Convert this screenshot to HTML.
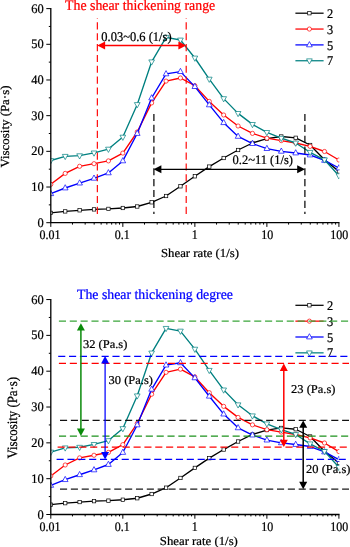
<!DOCTYPE html><html><head><meta charset="utf-8"><title>Shear thickening</title><style>html,body{margin:0;padding:0;background:#fff}svg{display:block}text{stroke-width:0.23px;text-rendering:geometricPrecision}</style></head><body><svg width="350" height="547" viewBox="0 0 350 547" font-family="'Liberation Serif', 'Times New Roman', serif" font-size="12.4"><rect width="350" height="547" fill="#fff"/><defs><clipPath id="c1"><rect x="50.8" y="0" width="288.5" height="223.0"/></clipPath><clipPath id="c2"><rect x="50.8" y="280" width="288.5" height="234.79999999999995"/></clipPath></defs><g clip-path="url(#c1)"><polyline points="50.80,212.90 65.21,211.40 79.61,210.30 94.02,209.40 108.42,208.90 122.83,208.00 137.24,206.50 151.64,202.30 166.05,196.00 180.45,186.30 194.86,176.30 209.27,166.60 223.67,158.00 238.08,150.00 252.48,143.00 266.89,138.60 281.30,136.50 295.70,137.80 310.11,145.00 324.51,159.80 338.92,171.40" fill="none" stroke="#000" stroke-width="1.35" stroke-linejoin="round"/><rect x="49.10" y="211.20" width="3.4" height="3.4" fill="#fff" stroke="#000" stroke-width="0.7"/><rect x="63.51" y="209.70" width="3.4" height="3.4" fill="#fff" stroke="#000" stroke-width="0.7"/><rect x="77.91" y="208.60" width="3.4" height="3.4" fill="#fff" stroke="#000" stroke-width="0.7"/><rect x="92.32" y="207.70" width="3.4" height="3.4" fill="#fff" stroke="#000" stroke-width="0.7"/><rect x="106.72" y="207.20" width="3.4" height="3.4" fill="#fff" stroke="#000" stroke-width="0.7"/><rect x="121.13" y="206.30" width="3.4" height="3.4" fill="#fff" stroke="#000" stroke-width="0.7"/><rect x="135.54" y="204.80" width="3.4" height="3.4" fill="#fff" stroke="#000" stroke-width="0.7"/><rect x="149.94" y="200.60" width="3.4" height="3.4" fill="#fff" stroke="#000" stroke-width="0.7"/><rect x="164.35" y="194.30" width="3.4" height="3.4" fill="#fff" stroke="#000" stroke-width="0.7"/><rect x="178.75" y="184.60" width="3.4" height="3.4" fill="#fff" stroke="#000" stroke-width="0.7"/><rect x="193.16" y="174.60" width="3.4" height="3.4" fill="#fff" stroke="#000" stroke-width="0.7"/><rect x="207.57" y="164.90" width="3.4" height="3.4" fill="#fff" stroke="#000" stroke-width="0.7"/><rect x="221.97" y="156.30" width="3.4" height="3.4" fill="#fff" stroke="#000" stroke-width="0.7"/><rect x="236.38" y="148.30" width="3.4" height="3.4" fill="#fff" stroke="#000" stroke-width="0.7"/><rect x="250.78" y="141.30" width="3.4" height="3.4" fill="#fff" stroke="#000" stroke-width="0.7"/><rect x="265.19" y="136.90" width="3.4" height="3.4" fill="#fff" stroke="#000" stroke-width="0.7"/><rect x="279.60" y="134.80" width="3.4" height="3.4" fill="#fff" stroke="#000" stroke-width="0.7"/><rect x="294.00" y="136.10" width="3.4" height="3.4" fill="#fff" stroke="#000" stroke-width="0.7"/><rect x="308.41" y="143.30" width="3.4" height="3.4" fill="#fff" stroke="#000" stroke-width="0.7"/><rect x="322.81" y="158.10" width="3.4" height="3.4" fill="#fff" stroke="#000" stroke-width="0.7"/><rect x="337.22" y="169.70" width="3.4" height="3.4" fill="#fff" stroke="#000" stroke-width="0.7"/><polyline points="50.80,184.30 65.21,173.40 79.61,166.30 94.02,163.70 108.42,160.90 122.83,153.10 137.24,132.00 151.64,102.90 166.05,81.10 180.45,78.00 194.86,85.70 209.27,101.40 223.67,115.00 238.08,126.00 252.48,133.40 266.89,138.20 281.30,140.60 295.70,143.00 310.11,146.40 324.51,151.50 338.92,160.00" fill="none" stroke="#ff0000" stroke-width="1.35" stroke-linejoin="round"/><circle cx="50.80" cy="184.30" r="2.1" fill="#fff" stroke="#ff0000" stroke-width="0.7"/><circle cx="65.21" cy="173.40" r="2.1" fill="#fff" stroke="#ff0000" stroke-width="0.7"/><circle cx="79.61" cy="166.30" r="2.1" fill="#fff" stroke="#ff0000" stroke-width="0.7"/><circle cx="94.02" cy="163.70" r="2.1" fill="#fff" stroke="#ff0000" stroke-width="0.7"/><circle cx="108.42" cy="160.90" r="2.1" fill="#fff" stroke="#ff0000" stroke-width="0.7"/><circle cx="122.83" cy="153.10" r="2.1" fill="#fff" stroke="#ff0000" stroke-width="0.7"/><circle cx="137.24" cy="132.00" r="2.1" fill="#fff" stroke="#ff0000" stroke-width="0.7"/><circle cx="151.64" cy="102.90" r="2.1" fill="#fff" stroke="#ff0000" stroke-width="0.7"/><circle cx="166.05" cy="81.10" r="2.1" fill="#fff" stroke="#ff0000" stroke-width="0.7"/><circle cx="180.45" cy="78.00" r="2.1" fill="#fff" stroke="#ff0000" stroke-width="0.7"/><circle cx="194.86" cy="85.70" r="2.1" fill="#fff" stroke="#ff0000" stroke-width="0.7"/><circle cx="209.27" cy="101.40" r="2.1" fill="#fff" stroke="#ff0000" stroke-width="0.7"/><circle cx="223.67" cy="115.00" r="2.1" fill="#fff" stroke="#ff0000" stroke-width="0.7"/><circle cx="238.08" cy="126.00" r="2.1" fill="#fff" stroke="#ff0000" stroke-width="0.7"/><circle cx="252.48" cy="133.40" r="2.1" fill="#fff" stroke="#ff0000" stroke-width="0.7"/><circle cx="266.89" cy="138.20" r="2.1" fill="#fff" stroke="#ff0000" stroke-width="0.7"/><circle cx="281.30" cy="140.60" r="2.1" fill="#fff" stroke="#ff0000" stroke-width="0.7"/><circle cx="295.70" cy="143.00" r="2.1" fill="#fff" stroke="#ff0000" stroke-width="0.7"/><circle cx="310.11" cy="146.40" r="2.1" fill="#fff" stroke="#ff0000" stroke-width="0.7"/><circle cx="324.51" cy="151.50" r="2.1" fill="#fff" stroke="#ff0000" stroke-width="0.7"/><circle cx="338.92" cy="160.00" r="2.1" fill="#fff" stroke="#ff0000" stroke-width="0.7"/><polyline points="50.80,193.70 65.21,188.00 79.61,183.10 94.02,178.30 108.42,172.90 122.83,160.90 137.24,133.50 151.64,98.00 166.05,73.90 180.45,71.60 194.86,86.60 209.27,104.90 223.67,122.70 238.08,136.40 252.48,143.60 266.89,148.60 281.30,151.30 295.70,153.00 310.11,155.00 324.51,160.40 338.92,168.00" fill="none" stroke="#0000ff" stroke-width="1.35" stroke-linejoin="round"/><polygon points="50.80,190.40 53.65,195.60 47.95,195.60" fill="#fff" stroke="#0000ff" stroke-width="0.7"/><polygon points="65.21,184.70 68.06,189.90 62.36,189.90" fill="#fff" stroke="#0000ff" stroke-width="0.7"/><polygon points="79.61,179.80 82.46,185.00 76.76,185.00" fill="#fff" stroke="#0000ff" stroke-width="0.7"/><polygon points="94.02,175.00 96.87,180.20 91.17,180.20" fill="#fff" stroke="#0000ff" stroke-width="0.7"/><polygon points="108.42,169.60 111.27,174.80 105.57,174.80" fill="#fff" stroke="#0000ff" stroke-width="0.7"/><polygon points="122.83,157.60 125.68,162.80 119.98,162.80" fill="#fff" stroke="#0000ff" stroke-width="0.7"/><polygon points="137.24,130.20 140.09,135.40 134.39,135.40" fill="#fff" stroke="#0000ff" stroke-width="0.7"/><polygon points="151.64,94.70 154.49,99.90 148.79,99.90" fill="#fff" stroke="#0000ff" stroke-width="0.7"/><polygon points="166.05,70.60 168.90,75.80 163.20,75.80" fill="#fff" stroke="#0000ff" stroke-width="0.7"/><polygon points="180.45,68.30 183.30,73.50 177.60,73.50" fill="#fff" stroke="#0000ff" stroke-width="0.7"/><polygon points="194.86,83.30 197.71,88.50 192.01,88.50" fill="#fff" stroke="#0000ff" stroke-width="0.7"/><polygon points="209.27,101.60 212.12,106.80 206.42,106.80" fill="#fff" stroke="#0000ff" stroke-width="0.7"/><polygon points="223.67,119.40 226.52,124.60 220.82,124.60" fill="#fff" stroke="#0000ff" stroke-width="0.7"/><polygon points="238.08,133.10 240.93,138.30 235.23,138.30" fill="#fff" stroke="#0000ff" stroke-width="0.7"/><polygon points="252.48,140.30 255.33,145.50 249.63,145.50" fill="#fff" stroke="#0000ff" stroke-width="0.7"/><polygon points="266.89,145.30 269.74,150.50 264.04,150.50" fill="#fff" stroke="#0000ff" stroke-width="0.7"/><polygon points="281.30,148.00 284.15,153.20 278.45,153.20" fill="#fff" stroke="#0000ff" stroke-width="0.7"/><polygon points="295.70,149.70 298.55,154.90 292.85,154.90" fill="#fff" stroke="#0000ff" stroke-width="0.7"/><polygon points="310.11,151.70 312.96,156.90 307.26,156.90" fill="#fff" stroke="#0000ff" stroke-width="0.7"/><polygon points="324.51,157.10 327.36,162.30 321.66,162.30" fill="#fff" stroke="#0000ff" stroke-width="0.7"/><polygon points="338.92,164.70 341.77,169.90 336.07,169.90" fill="#fff" stroke="#0000ff" stroke-width="0.7"/><polyline points="50.80,160.50 65.21,156.30 79.61,155.70 94.02,152.90 108.42,149.10 122.83,137.10 137.24,104.50 151.64,61.80 166.05,37.30 180.45,40.00 194.86,58.00 209.27,79.10 223.67,98.60 238.08,113.40 252.48,124.40 266.89,132.40 281.30,138.20 295.70,143.00 310.11,152.30 324.51,159.80 338.92,175.70" fill="none" stroke="#008080" stroke-width="1.35" stroke-linejoin="round"/><polygon points="50.80,163.80 53.65,158.60 47.95,158.60" fill="#fff" stroke="#008080" stroke-width="0.7"/><polygon points="65.21,159.60 68.06,154.40 62.36,154.40" fill="#fff" stroke="#008080" stroke-width="0.7"/><polygon points="79.61,159.00 82.46,153.80 76.76,153.80" fill="#fff" stroke="#008080" stroke-width="0.7"/><polygon points="94.02,156.20 96.87,151.00 91.17,151.00" fill="#fff" stroke="#008080" stroke-width="0.7"/><polygon points="108.42,152.40 111.27,147.20 105.57,147.20" fill="#fff" stroke="#008080" stroke-width="0.7"/><polygon points="122.83,140.40 125.68,135.20 119.98,135.20" fill="#fff" stroke="#008080" stroke-width="0.7"/><polygon points="137.24,107.80 140.09,102.60 134.39,102.60" fill="#fff" stroke="#008080" stroke-width="0.7"/><polygon points="151.64,65.10 154.49,59.90 148.79,59.90" fill="#fff" stroke="#008080" stroke-width="0.7"/><polygon points="166.05,40.60 168.90,35.40 163.20,35.40" fill="#fff" stroke="#008080" stroke-width="0.7"/><polygon points="180.45,43.30 183.30,38.10 177.60,38.10" fill="#fff" stroke="#008080" stroke-width="0.7"/><polygon points="194.86,61.30 197.71,56.10 192.01,56.10" fill="#fff" stroke="#008080" stroke-width="0.7"/><polygon points="209.27,82.40 212.12,77.20 206.42,77.20" fill="#fff" stroke="#008080" stroke-width="0.7"/><polygon points="223.67,101.90 226.52,96.70 220.82,96.70" fill="#fff" stroke="#008080" stroke-width="0.7"/><polygon points="238.08,116.70 240.93,111.50 235.23,111.50" fill="#fff" stroke="#008080" stroke-width="0.7"/><polygon points="252.48,127.70 255.33,122.50 249.63,122.50" fill="#fff" stroke="#008080" stroke-width="0.7"/><polygon points="266.89,135.70 269.74,130.50 264.04,130.50" fill="#fff" stroke="#008080" stroke-width="0.7"/><polygon points="281.30,141.50 284.15,136.30 278.45,136.30" fill="#fff" stroke="#008080" stroke-width="0.7"/><polygon points="295.70,146.30 298.55,141.10 292.85,141.10" fill="#fff" stroke="#008080" stroke-width="0.7"/><polygon points="310.11,155.60 312.96,150.40 307.26,150.40" fill="#fff" stroke="#008080" stroke-width="0.7"/><polygon points="324.51,163.10 327.36,157.90 321.66,157.90" fill="#fff" stroke="#008080" stroke-width="0.7"/><polygon points="338.92,179.00 341.77,173.80 336.07,173.80" fill="#fff" stroke="#008080" stroke-width="0.7"/></g><g stroke="#000" stroke-width="1.3" fill="none"><path d="M50.8 8.02 V222.7 H339.52000000000004"/></g><g stroke="#000" stroke-width="1" fill="none"><path d="M46.3 222.70 H50.8"/><path d="M48.8 204.86 H50.8"/><path d="M46.3 187.02 H50.8"/><path d="M48.8 169.18 H50.8"/><path d="M46.3 151.34 H50.8"/><path d="M48.8 133.50 H50.8"/><path d="M46.3 115.66 H50.8"/><path d="M48.8 97.82 H50.8"/><path d="M46.3 79.98 H50.8"/><path d="M48.8 62.14 H50.8"/><path d="M46.3 44.30 H50.8"/><path d="M48.8 26.46 H50.8"/><path d="M46.3 8.62 H50.8"/><path d="M50.80 222.7 V226.89999999999998"/><path d="M72.48 222.7 V224.6"/><path d="M85.17 222.7 V224.6"/><path d="M94.17 222.7 V224.6"/><path d="M101.15 222.7 V224.6"/><path d="M106.85 222.7 V224.6"/><path d="M111.67 222.7 V224.6"/><path d="M115.85 222.7 V224.6"/><path d="M119.53 222.7 V224.6"/><path d="M122.83 222.7 V226.89999999999998"/><path d="M144.51 222.7 V224.6"/><path d="M157.20 222.7 V224.6"/><path d="M166.20 222.7 V224.6"/><path d="M173.18 222.7 V224.6"/><path d="M178.88 222.7 V224.6"/><path d="M183.70 222.7 V224.6"/><path d="M187.88 222.7 V224.6"/><path d="M191.56 222.7 V224.6"/><path d="M194.86 222.7 V226.89999999999998"/><path d="M216.54 222.7 V224.6"/><path d="M229.23 222.7 V224.6"/><path d="M238.23 222.7 V224.6"/><path d="M245.21 222.7 V224.6"/><path d="M250.91 222.7 V224.6"/><path d="M255.73 222.7 V224.6"/><path d="M259.91 222.7 V224.6"/><path d="M263.59 222.7 V224.6"/><path d="M266.89 222.7 V226.89999999999998"/><path d="M288.57 222.7 V224.6"/><path d="M301.26 222.7 V224.6"/><path d="M310.26 222.7 V224.6"/><path d="M317.24 222.7 V224.6"/><path d="M322.94 222.7 V224.6"/><path d="M327.76 222.7 V224.6"/><path d="M331.94 222.7 V224.6"/><path d="M335.62 222.7 V224.6"/><path d="M338.92 222.7 V226.89999999999998"/></g><text transform="translate(43.60 226.70) scale(1.01 1.06)" font-size="12.3" fill="#000" stroke="#000" text-anchor="end">0</text><text transform="translate(43.60 191.02) scale(1.01 1.06)" font-size="12.3" fill="#000" stroke="#000" text-anchor="end">10</text><text transform="translate(43.60 155.34) scale(1.01 1.06)" font-size="12.3" fill="#000" stroke="#000" text-anchor="end">20</text><text transform="translate(43.60 119.66) scale(1.01 1.06)" font-size="12.3" fill="#000" stroke="#000" text-anchor="end">30</text><text transform="translate(43.60 83.98) scale(1.01 1.06)" font-size="12.3" fill="#000" stroke="#000" text-anchor="end">40</text><text transform="translate(43.60 48.30) scale(1.01 1.06)" font-size="12.3" fill="#000" stroke="#000" text-anchor="end">50</text><text transform="translate(43.60 12.62) scale(1.01 1.06)" font-size="12.3" fill="#000" stroke="#000" text-anchor="end">60</text><text transform="translate(49.90 239.10) scale(0.975 1.07)" font-size="12.3" fill="#000" stroke="#000" text-anchor="middle">0.01</text><text transform="translate(122.23 239.10) scale(0.975 1.07)" font-size="12.3" fill="#000" stroke="#000" text-anchor="middle">0.1</text><text transform="translate(194.66 239.10) scale(0.975 1.07)" font-size="12.3" fill="#000" stroke="#000" text-anchor="middle">1</text><text transform="translate(267.19 239.10) scale(0.975 1.07)" font-size="12.3" fill="#000" stroke="#000" text-anchor="middle">10</text><text transform="translate(339.22 239.10) scale(0.975 1.07)" font-size="12.3" fill="#000" stroke="#000" text-anchor="middle">100</text><text transform="translate(200.00 256.60) scale(1.022 0.98)" font-size="12.5" fill="#000" stroke="#000" text-anchor="middle">Shear rate (1/s)</text><text transform="translate(8.85 126.55) rotate(-90) scale(1.017 0.97)" font-size="12.7" fill="#000" stroke="#000" text-anchor="middle">Viscosity (Pa·s)</text><path d="M295.4 13.20 H323.6" stroke="#000" stroke-width="1.25"/><rect x="307.70" y="11.50" width="3.4" height="3.4" fill="#fff" stroke="#000" stroke-width="0.7"/><text transform="translate(327.00 17.80) scale(1.0 1.07)" font-size="12.4" fill="#000" stroke="#000">2</text><path d="M295.4 29.05 H323.6" stroke="#ff0000" stroke-width="1.25"/><circle cx="309.40" cy="29.05" r="2.1" fill="#fff" stroke="#ff0000" stroke-width="0.7"/><text transform="translate(327.00 33.65) scale(1.0 1.07)" font-size="12.4" fill="#000" stroke="#000">3</text><path d="M295.4 44.90 H323.6" stroke="#0000ff" stroke-width="1.25"/><polygon points="309.40,41.60 312.25,46.80 306.55,46.80" fill="#fff" stroke="#0000ff" stroke-width="0.7"/><text transform="translate(327.00 49.50) scale(1.0 1.07)" font-size="12.4" fill="#000" stroke="#000">5</text><path d="M295.4 60.75 H323.6" stroke="#008080" stroke-width="1.25"/><polygon points="309.40,64.05 312.25,58.85 306.55,58.85" fill="#fff" stroke="#008080" stroke-width="0.7"/><text transform="translate(327.00 65.35) scale(1.0 1.07)" font-size="12.4" fill="#000" stroke="#000">7</text><path d="M97.35 213.9 V18" stroke="#ff0000" stroke-width="1.15" stroke-dasharray="7.1 3.75" fill="none"/><path d="M186.2 213.9 V18" stroke="#ff0000" stroke-width="1.15" stroke-dasharray="7.1 3.75" fill="none"/><path d="M153.9 114 V213.9" stroke="#000" stroke-width="1.2" stroke-dasharray="7.1 3.75" fill="none"/><path d="M304.9 114 V213.9" stroke="#000" stroke-width="1.2" stroke-dasharray="7.1 3.75" fill="none"/><path d="M100.3 45.4 H183.2" stroke="#ff0000" stroke-width="1.5"/><polygon points="97.3,45.4 105.1,41.4 105.1,49.4" fill="#ff0000"/><polygon points="186.2,45.4 178.39999999999998,41.4 178.39999999999998,49.4" fill="#ff0000"/><path d="M156.6 169.3 H302.0" stroke="#000" stroke-width="1.15"/><polygon points="153.6,169.3 161.4,165.3 161.4,173.3" fill="#000"/><polygon points="305.0,169.3 297.2,165.3 297.2,173.3" fill="#000"/><text transform="translate(65.10 9.70) scale(1.01 1.07)" font-size="13.7" fill="#ff0000" stroke="#ff0000">The shear thickening range</text><text transform="translate(101.30 41.30) scale(1.0 1.06)" font-size="12.5" fill="#000" stroke="#000">0.03~0.6 (1/s)</text><text transform="translate(232.50 163.90) scale(1.0 1.04)" font-size="12.5" fill="#000" stroke="#000">0.2~11 (1/s)</text><path d="M295.4 305.30 H323.6" stroke="#000" stroke-width="1.25"/><rect x="307.70" y="303.60" width="3.4" height="3.4" fill="#fff" stroke="#000" stroke-width="0.7"/><text transform="translate(327.00 309.90) scale(1.0 1.07)" font-size="12.4" fill="#000" stroke="#000">2</text><path d="M295.4 321.15 H323.6" stroke="#ff0000" stroke-width="1.25"/><circle cx="309.40" cy="321.15" r="2.1" fill="#fff" stroke="#ff0000" stroke-width="0.7"/><text transform="translate(327.00 325.75) scale(1.0 1.07)" font-size="12.4" fill="#000" stroke="#000">3</text><path d="M295.4 337.00 H323.6" stroke="#0000ff" stroke-width="1.25"/><polygon points="309.40,333.70 312.25,338.90 306.55,338.90" fill="#fff" stroke="#0000ff" stroke-width="0.7"/><text transform="translate(327.00 341.60) scale(1.0 1.07)" font-size="12.4" fill="#000" stroke="#000">5</text><path d="M295.4 352.85 H323.6" stroke="#008080" stroke-width="1.25"/><polygon points="309.40,356.15 312.25,350.95 306.55,350.95" fill="#fff" stroke="#008080" stroke-width="0.7"/><text transform="translate(327.00 357.45) scale(1.0 1.07)" font-size="12.4" fill="#000" stroke="#000">7</text><g clip-path="url(#c2)"><polyline points="50.80,504.66 65.21,503.15 79.61,502.05 94.02,501.15 108.42,500.64 122.83,499.74 137.24,498.23 151.64,494.02 166.05,487.69 180.45,477.95 194.86,467.91 209.27,458.17 223.67,449.54 238.08,441.50 252.48,434.48 266.89,430.06 281.30,427.95 295.70,429.25 310.11,436.48 324.51,451.34 338.92,462.99" fill="none" stroke="#000" stroke-width="1.35" stroke-linejoin="round"/><rect x="49.10" y="502.96" width="3.4" height="3.4" fill="#fff" stroke="#000" stroke-width="0.7"/><rect x="63.51" y="501.45" width="3.4" height="3.4" fill="#fff" stroke="#000" stroke-width="0.7"/><rect x="77.91" y="500.35" width="3.4" height="3.4" fill="#fff" stroke="#000" stroke-width="0.7"/><rect x="92.32" y="499.45" width="3.4" height="3.4" fill="#fff" stroke="#000" stroke-width="0.7"/><rect x="106.72" y="498.94" width="3.4" height="3.4" fill="#fff" stroke="#000" stroke-width="0.7"/><rect x="121.13" y="498.04" width="3.4" height="3.4" fill="#fff" stroke="#000" stroke-width="0.7"/><rect x="135.54" y="496.53" width="3.4" height="3.4" fill="#fff" stroke="#000" stroke-width="0.7"/><rect x="149.94" y="492.32" width="3.4" height="3.4" fill="#fff" stroke="#000" stroke-width="0.7"/><rect x="164.35" y="485.99" width="3.4" height="3.4" fill="#fff" stroke="#000" stroke-width="0.7"/><rect x="178.75" y="476.25" width="3.4" height="3.4" fill="#fff" stroke="#000" stroke-width="0.7"/><rect x="193.16" y="466.21" width="3.4" height="3.4" fill="#fff" stroke="#000" stroke-width="0.7"/><rect x="207.57" y="456.47" width="3.4" height="3.4" fill="#fff" stroke="#000" stroke-width="0.7"/><rect x="221.97" y="447.84" width="3.4" height="3.4" fill="#fff" stroke="#000" stroke-width="0.7"/><rect x="236.38" y="439.80" width="3.4" height="3.4" fill="#fff" stroke="#000" stroke-width="0.7"/><rect x="250.78" y="432.78" width="3.4" height="3.4" fill="#fff" stroke="#000" stroke-width="0.7"/><rect x="265.19" y="428.36" width="3.4" height="3.4" fill="#fff" stroke="#000" stroke-width="0.7"/><rect x="279.60" y="426.25" width="3.4" height="3.4" fill="#fff" stroke="#000" stroke-width="0.7"/><rect x="294.00" y="427.55" width="3.4" height="3.4" fill="#fff" stroke="#000" stroke-width="0.7"/><rect x="308.41" y="434.78" width="3.4" height="3.4" fill="#fff" stroke="#000" stroke-width="0.7"/><rect x="322.81" y="449.64" width="3.4" height="3.4" fill="#fff" stroke="#000" stroke-width="0.7"/><rect x="337.22" y="461.29" width="3.4" height="3.4" fill="#fff" stroke="#000" stroke-width="0.7"/><polyline points="50.80,475.94 65.21,465.00 79.61,457.87 94.02,455.26 108.42,452.45 122.83,444.62 137.24,423.43 151.64,394.21 166.05,372.32 180.45,369.21 194.86,376.94 209.27,392.71 223.67,406.36 238.08,417.41 252.48,424.84 266.89,429.66 281.30,432.07 295.70,434.48 310.11,437.89 324.51,443.01 338.92,451.55" fill="none" stroke="#ff0000" stroke-width="1.35" stroke-linejoin="round"/><circle cx="50.80" cy="475.94" r="2.1" fill="#fff" stroke="#ff0000" stroke-width="0.7"/><circle cx="65.21" cy="465.00" r="2.1" fill="#fff" stroke="#ff0000" stroke-width="0.7"/><circle cx="79.61" cy="457.87" r="2.1" fill="#fff" stroke="#ff0000" stroke-width="0.7"/><circle cx="94.02" cy="455.26" r="2.1" fill="#fff" stroke="#ff0000" stroke-width="0.7"/><circle cx="108.42" cy="452.45" r="2.1" fill="#fff" stroke="#ff0000" stroke-width="0.7"/><circle cx="122.83" cy="444.62" r="2.1" fill="#fff" stroke="#ff0000" stroke-width="0.7"/><circle cx="137.24" cy="423.43" r="2.1" fill="#fff" stroke="#ff0000" stroke-width="0.7"/><circle cx="151.64" cy="394.21" r="2.1" fill="#fff" stroke="#ff0000" stroke-width="0.7"/><circle cx="166.05" cy="372.32" r="2.1" fill="#fff" stroke="#ff0000" stroke-width="0.7"/><circle cx="180.45" cy="369.21" r="2.1" fill="#fff" stroke="#ff0000" stroke-width="0.7"/><circle cx="194.86" cy="376.94" r="2.1" fill="#fff" stroke="#ff0000" stroke-width="0.7"/><circle cx="209.27" cy="392.71" r="2.1" fill="#fff" stroke="#ff0000" stroke-width="0.7"/><circle cx="223.67" cy="406.36" r="2.1" fill="#fff" stroke="#ff0000" stroke-width="0.7"/><circle cx="238.08" cy="417.41" r="2.1" fill="#fff" stroke="#ff0000" stroke-width="0.7"/><circle cx="252.48" cy="424.84" r="2.1" fill="#fff" stroke="#ff0000" stroke-width="0.7"/><circle cx="266.89" cy="429.66" r="2.1" fill="#fff" stroke="#ff0000" stroke-width="0.7"/><circle cx="281.30" cy="432.07" r="2.1" fill="#fff" stroke="#ff0000" stroke-width="0.7"/><circle cx="295.70" cy="434.48" r="2.1" fill="#fff" stroke="#ff0000" stroke-width="0.7"/><circle cx="310.11" cy="437.89" r="2.1" fill="#fff" stroke="#ff0000" stroke-width="0.7"/><circle cx="324.51" cy="443.01" r="2.1" fill="#fff" stroke="#ff0000" stroke-width="0.7"/><circle cx="338.92" cy="451.55" r="2.1" fill="#fff" stroke="#ff0000" stroke-width="0.7"/><polyline points="50.80,485.38 65.21,479.66 79.61,474.74 94.02,469.92 108.42,464.50 122.83,452.45 137.24,424.94 151.64,389.29 166.05,365.10 180.45,362.79 194.86,377.85 209.27,396.22 223.67,414.09 238.08,427.85 252.48,435.08 266.89,440.10 281.30,442.81 295.70,444.52 310.11,446.52 324.51,451.95 338.92,459.58" fill="none" stroke="#0000ff" stroke-width="1.35" stroke-linejoin="round"/><polygon points="50.80,482.08 53.65,487.28 47.95,487.28" fill="#fff" stroke="#0000ff" stroke-width="0.7"/><polygon points="65.21,476.36 68.06,481.56 62.36,481.56" fill="#fff" stroke="#0000ff" stroke-width="0.7"/><polygon points="79.61,471.44 82.46,476.64 76.76,476.64" fill="#fff" stroke="#0000ff" stroke-width="0.7"/><polygon points="94.02,466.62 96.87,471.82 91.17,471.82" fill="#fff" stroke="#0000ff" stroke-width="0.7"/><polygon points="108.42,461.20 111.27,466.40 105.57,466.40" fill="#fff" stroke="#0000ff" stroke-width="0.7"/><polygon points="122.83,449.15 125.68,454.35 119.98,454.35" fill="#fff" stroke="#0000ff" stroke-width="0.7"/><polygon points="137.24,421.64 140.09,426.84 134.39,426.84" fill="#fff" stroke="#0000ff" stroke-width="0.7"/><polygon points="151.64,385.99 154.49,391.19 148.79,391.19" fill="#fff" stroke="#0000ff" stroke-width="0.7"/><polygon points="166.05,361.80 168.90,367.00 163.20,367.00" fill="#fff" stroke="#0000ff" stroke-width="0.7"/><polygon points="180.45,359.49 183.30,364.69 177.60,364.69" fill="#fff" stroke="#0000ff" stroke-width="0.7"/><polygon points="194.86,374.55 197.71,379.75 192.01,379.75" fill="#fff" stroke="#0000ff" stroke-width="0.7"/><polygon points="209.27,392.92 212.12,398.12 206.42,398.12" fill="#fff" stroke="#0000ff" stroke-width="0.7"/><polygon points="223.67,410.79 226.52,415.99 220.82,415.99" fill="#fff" stroke="#0000ff" stroke-width="0.7"/><polygon points="238.08,424.55 240.93,429.75 235.23,429.75" fill="#fff" stroke="#0000ff" stroke-width="0.7"/><polygon points="252.48,431.78 255.33,436.98 249.63,436.98" fill="#fff" stroke="#0000ff" stroke-width="0.7"/><polygon points="266.89,436.80 269.74,442.00 264.04,442.00" fill="#fff" stroke="#0000ff" stroke-width="0.7"/><polygon points="281.30,439.51 284.15,444.71 278.45,444.71" fill="#fff" stroke="#0000ff" stroke-width="0.7"/><polygon points="295.70,441.22 298.55,446.42 292.85,446.42" fill="#fff" stroke="#0000ff" stroke-width="0.7"/><polygon points="310.11,443.22 312.96,448.42 307.26,448.42" fill="#fff" stroke="#0000ff" stroke-width="0.7"/><polygon points="324.51,448.65 327.36,453.85 321.66,453.85" fill="#fff" stroke="#0000ff" stroke-width="0.7"/><polygon points="338.92,456.28 341.77,461.48 336.07,461.48" fill="#fff" stroke="#0000ff" stroke-width="0.7"/><polyline points="50.80,452.05 65.21,447.83 79.61,447.23 94.02,444.42 108.42,440.60 122.83,428.55 137.24,395.82 151.64,352.95 166.05,328.35 180.45,331.06 194.86,349.13 209.27,370.32 223.67,389.90 238.08,404.76 252.48,415.80 266.89,423.83 281.30,429.66 295.70,434.48 310.11,443.81 324.51,451.34 338.92,467.31" fill="none" stroke="#008080" stroke-width="1.35" stroke-linejoin="round"/><polygon points="50.80,455.35 53.65,450.15 47.95,450.15" fill="#fff" stroke="#008080" stroke-width="0.7"/><polygon points="65.21,451.13 68.06,445.93 62.36,445.93" fill="#fff" stroke="#008080" stroke-width="0.7"/><polygon points="79.61,450.53 82.46,445.33 76.76,445.33" fill="#fff" stroke="#008080" stroke-width="0.7"/><polygon points="94.02,447.72 96.87,442.52 91.17,442.52" fill="#fff" stroke="#008080" stroke-width="0.7"/><polygon points="108.42,443.90 111.27,438.70 105.57,438.70" fill="#fff" stroke="#008080" stroke-width="0.7"/><polygon points="122.83,431.85 125.68,426.65 119.98,426.65" fill="#fff" stroke="#008080" stroke-width="0.7"/><polygon points="137.24,399.12 140.09,393.92 134.39,393.92" fill="#fff" stroke="#008080" stroke-width="0.7"/><polygon points="151.64,356.25 154.49,351.05 148.79,351.05" fill="#fff" stroke="#008080" stroke-width="0.7"/><polygon points="166.05,331.65 168.90,326.45 163.20,326.45" fill="#fff" stroke="#008080" stroke-width="0.7"/><polygon points="180.45,334.36 183.30,329.16 177.60,329.16" fill="#fff" stroke="#008080" stroke-width="0.7"/><polygon points="194.86,352.43 197.71,347.23 192.01,347.23" fill="#fff" stroke="#008080" stroke-width="0.7"/><polygon points="209.27,373.62 212.12,368.42 206.42,368.42" fill="#fff" stroke="#008080" stroke-width="0.7"/><polygon points="223.67,393.20 226.52,388.00 220.82,388.00" fill="#fff" stroke="#008080" stroke-width="0.7"/><polygon points="238.08,408.06 240.93,402.86 235.23,402.86" fill="#fff" stroke="#008080" stroke-width="0.7"/><polygon points="252.48,419.10 255.33,413.90 249.63,413.90" fill="#fff" stroke="#008080" stroke-width="0.7"/><polygon points="266.89,427.13 269.74,421.93 264.04,421.93" fill="#fff" stroke="#008080" stroke-width="0.7"/><polygon points="281.30,432.96 284.15,427.76 278.45,427.76" fill="#fff" stroke="#008080" stroke-width="0.7"/><polygon points="295.70,437.78 298.55,432.58 292.85,432.58" fill="#fff" stroke="#008080" stroke-width="0.7"/><polygon points="310.11,447.11 312.96,441.91 307.26,441.91" fill="#fff" stroke="#008080" stroke-width="0.7"/><polygon points="324.51,454.64 327.36,449.44 321.66,449.44" fill="#fff" stroke="#008080" stroke-width="0.7"/><polygon points="338.92,470.61 341.77,465.41 336.07,465.41" fill="#fff" stroke="#008080" stroke-width="0.7"/></g><g stroke="#000" stroke-width="1.3" fill="none"><path d="M50.8 298.95 V514.5 H339.52000000000004"/></g><g stroke="#000" stroke-width="1" fill="none"><path d="M46.3 514.50 H50.8"/><path d="M48.8 496.59 H50.8"/><path d="M46.3 478.68 H50.8"/><path d="M48.8 460.76 H50.8"/><path d="M46.3 442.85 H50.8"/><path d="M48.8 424.94 H50.8"/><path d="M46.3 407.02 H50.8"/><path d="M48.8 389.11 H50.8"/><path d="M46.3 371.20 H50.8"/><path d="M48.8 353.29 H50.8"/><path d="M46.3 335.38 H50.8"/><path d="M48.8 317.46 H50.8"/><path d="M46.3 299.55 H50.8"/><path d="M50.80 514.5 V518.7"/><path d="M72.48 514.5 V516.4"/><path d="M85.17 514.5 V516.4"/><path d="M94.17 514.5 V516.4"/><path d="M101.15 514.5 V516.4"/><path d="M106.85 514.5 V516.4"/><path d="M111.67 514.5 V516.4"/><path d="M115.85 514.5 V516.4"/><path d="M119.53 514.5 V516.4"/><path d="M122.83 514.5 V518.7"/><path d="M144.51 514.5 V516.4"/><path d="M157.20 514.5 V516.4"/><path d="M166.20 514.5 V516.4"/><path d="M173.18 514.5 V516.4"/><path d="M178.88 514.5 V516.4"/><path d="M183.70 514.5 V516.4"/><path d="M187.88 514.5 V516.4"/><path d="M191.56 514.5 V516.4"/><path d="M194.86 514.5 V518.7"/><path d="M216.54 514.5 V516.4"/><path d="M229.23 514.5 V516.4"/><path d="M238.23 514.5 V516.4"/><path d="M245.21 514.5 V516.4"/><path d="M250.91 514.5 V516.4"/><path d="M255.73 514.5 V516.4"/><path d="M259.91 514.5 V516.4"/><path d="M263.59 514.5 V516.4"/><path d="M266.89 514.5 V518.7"/><path d="M288.57 514.5 V516.4"/><path d="M301.26 514.5 V516.4"/><path d="M310.26 514.5 V516.4"/><path d="M317.24 514.5 V516.4"/><path d="M322.94 514.5 V516.4"/><path d="M327.76 514.5 V516.4"/><path d="M331.94 514.5 V516.4"/><path d="M335.62 514.5 V516.4"/><path d="M338.92 514.5 V518.7"/></g><text transform="translate(43.60 518.50) scale(1.01 1.06)" font-size="12.3" fill="#000" stroke="#000" text-anchor="end">0</text><text transform="translate(43.60 482.68) scale(1.01 1.06)" font-size="12.3" fill="#000" stroke="#000" text-anchor="end">10</text><text transform="translate(43.60 446.85) scale(1.01 1.06)" font-size="12.3" fill="#000" stroke="#000" text-anchor="end">20</text><text transform="translate(43.60 411.02) scale(1.01 1.06)" font-size="12.3" fill="#000" stroke="#000" text-anchor="end">30</text><text transform="translate(43.60 375.20) scale(1.01 1.06)" font-size="12.3" fill="#000" stroke="#000" text-anchor="end">40</text><text transform="translate(43.60 339.38) scale(1.01 1.06)" font-size="12.3" fill="#000" stroke="#000" text-anchor="end">50</text><text transform="translate(43.60 303.55) scale(1.01 1.06)" font-size="12.3" fill="#000" stroke="#000" text-anchor="end">60</text><text transform="translate(49.90 530.90) scale(0.975 1.07)" font-size="12.3" fill="#000" stroke="#000" text-anchor="middle">0.01</text><text transform="translate(122.23 530.90) scale(0.975 1.07)" font-size="12.3" fill="#000" stroke="#000" text-anchor="middle">0.1</text><text transform="translate(194.66 530.90) scale(0.975 1.07)" font-size="12.3" fill="#000" stroke="#000" text-anchor="middle">1</text><text transform="translate(267.19 530.90) scale(0.975 1.07)" font-size="12.3" fill="#000" stroke="#000" text-anchor="middle">10</text><text transform="translate(339.22 530.90) scale(0.975 1.07)" font-size="12.3" fill="#000" stroke="#000" text-anchor="middle">100</text><text transform="translate(198.85 544.50) scale(1.022 0.98)" font-size="12.5" fill="#000" stroke="#000" text-anchor="middle">Shear rate (1/s)</text><text transform="translate(16.65 417.75) rotate(-90) scale(1.012 1.12)" font-size="12.7" fill="#000" stroke="#000" text-anchor="middle">Viscosity (Pa·s)</text><path d="M58.9 321.1 H349" stroke="#3aa53a" stroke-width="1.08" stroke-dasharray="7.1 3.75" fill="none"/><path d="M58.2 356.4 H349" stroke="#0000ff" stroke-width="1.08" stroke-dasharray="7.1 3.75" fill="none"/><path d="M58.9 363.4 H349" stroke="#ff0000" stroke-width="1.08" stroke-dasharray="7.1 3.805" fill="none"/><path d="M60 420.3 H349" stroke="#111" stroke-width="1.2" stroke-dasharray="7.1 3.75" fill="none"/><path d="M59 436.1 H349" stroke="#1c911c" stroke-width="1.08" stroke-dasharray="7.1 3.75" fill="none"/><path d="M57.6 447.1 H349" stroke="#ff0000" stroke-width="1.08" stroke-dasharray="7.1 3.75" fill="none"/><path d="M56.6 459.4 H349" stroke="#0000ff" stroke-width="1.08" stroke-dasharray="7.1 3.75" fill="none"/><path d="M60 489.2 H349" stroke="#1a1a1a" stroke-width="1.2" stroke-dasharray="7.1 3.75" fill="none"/><path d="M80.9 326.2 V433" stroke="#0a8a0a" stroke-width="1.5"/><polygon points="80.9,323.2 76.9,330.59999999999997 84.9,330.59999999999997" fill="#0a8a0a"/><polygon points="80.9,436 76.9,428.6 84.9,428.6" fill="#0a8a0a"/><path d="M105.1 359.1 V456.4" stroke="#0000ff" stroke-width="1.25"/><polygon points="105.1,356.1 101.1,363.5 109.1,363.5" fill="#0000ff"/><polygon points="105.1,459.4 101.1,452.0 109.1,452.0" fill="#0000ff"/><path d="M283.8 366.6 V444.1" stroke="#ff0000" stroke-width="1.5"/><polygon points="283.8,363.6 279.8,371.0 287.8,371.0" fill="#ff0000"/><polygon points="283.8,447.1 279.8,439.70000000000005 287.8,439.70000000000005" fill="#ff0000"/><path d="M303.2 423.4 V486.2" stroke="#000" stroke-width="1.5"/><polygon points="303.2,420.4 299.2,427.79999999999995 307.2,427.79999999999995" fill="#000"/><polygon points="303.2,489.2 299.2,481.8 307.2,481.8" fill="#000"/><text transform="translate(77.00 298.70) scale(1.008 1.04)" font-size="13.7" fill="#0000ff" stroke="#0000ff">The shear thickening degree</text><text transform="translate(82.90 347.80) scale(1.0 0.94)" font-size="12.5" fill="#000" stroke="#000">32 (Pa.s)</text><text transform="translate(108.50 384.30) scale(1.0 0.96)" font-size="12.5" fill="#000" stroke="#000">30 (Pa.s)</text><text transform="translate(291.00 392.50) scale(1.0 0.96)" font-size="12.5" fill="#000" stroke="#000">23 (Pa.s)</text><text transform="translate(306.00 473.00) scale(1.0 0.97)" font-size="12.5" fill="#000" stroke="#000">20 (Pa.s)</text></svg></body></html>
